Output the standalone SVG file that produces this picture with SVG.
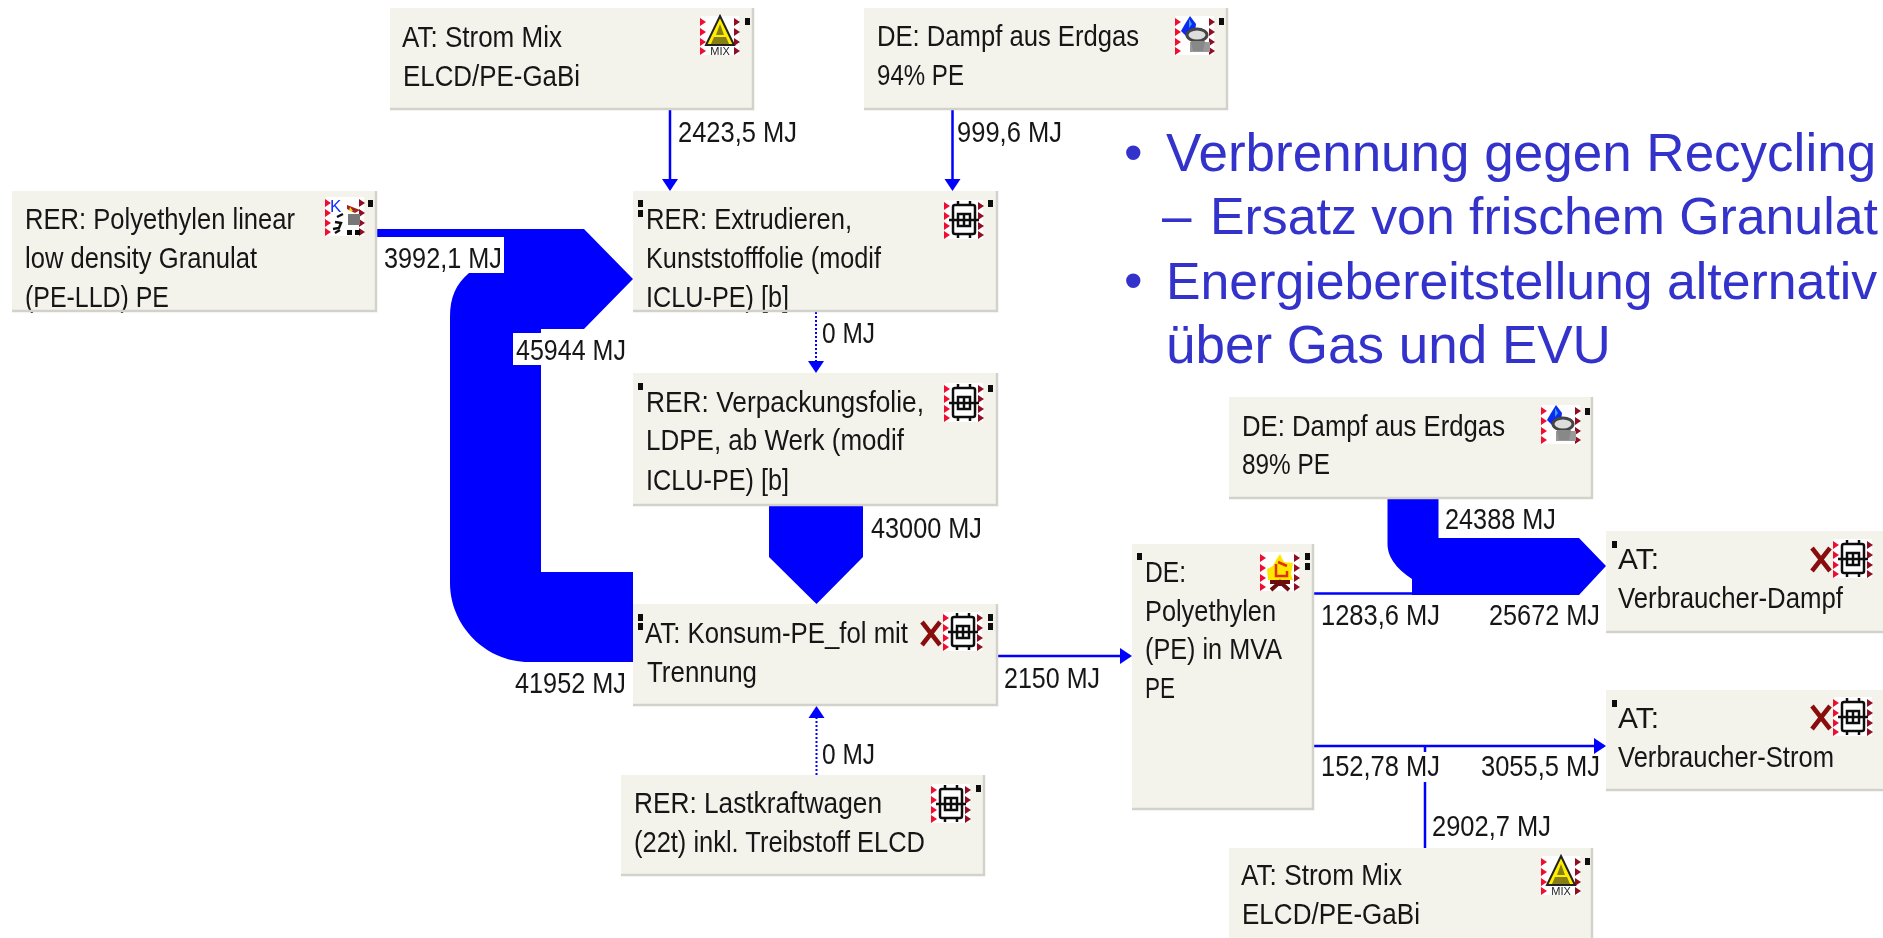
<svg xmlns="http://www.w3.org/2000/svg" width="1883" height="938" viewBox="0 0 1883 938">
<style>
.bg{fill:#fff}
.box{fill:#f3f3ec}
.edge{fill:none;stroke:#d2d2ca;stroke-width:2.5}
.t{font-family:"Liberation Sans",Arial,sans-serif;font-size:29px;fill:#151515}
.b{font-family:"Liberation Sans",Arial,sans-serif;font-size:53px;fill:#3333cc}
.c{font-size:51.800px}
.flow{fill:#0000ff}
.line{fill:none;stroke:#0000ff;stroke-width:2.5}
.dot{fill:none;stroke:#0000ff;stroke-width:2;stroke-dasharray:2 2}
.m{fill:#111}
.soft{filter:url(#soft)}
</style>
<defs>
<filter id="soft" x="0" y="0" width="1" height="1" filterUnits="objectBoundingBox"><feGaussianBlur stdDeviation="0.55"/></filter>
<marker id="ah" viewBox="0 0 12 18" markerUnits="userSpaceOnUse" markerWidth="12" markerHeight="18" refX="10" refY="9" orient="auto"><path d="M0 1L12 9L0 17Z" fill="#0000ff"/></marker>
<g id="frame">
<rect x="1" width="38" height="39" fill="#fff"/>
<path d="M0 2l6 4l-6 4zM0 12l6 4l-6 4zM0 22l6 4l-6 4zM0 31l6 4l-6 4z" fill="#f01030"/>
<path d="M34 2l6 4l-6 4zM34 12l6 4l-6 4zM34 22l6 4l-6 4zM34 31l6 4l-6 4z" fill="#901020"/>
</g>
<g id="factory">
<use href="#frame"/>
<g fill="none" stroke="#111" stroke-width="2.500">
<rect x="9" y="5" width="22" height="29" rx="2"/>
<path d="M5 20H35M14 1V5M26 1V5M14 34V38M26 34V38M14 14H26V26H14ZM20 14V26M14 20H26"/>
</g>
</g>
<g id="mix">
<use href="#frame"/>
<path d="M20 0L34 29H6Z" fill="#ffee00" stroke="#222" stroke-width="2"/>
<path d="M20 8L16 19H24ZM14 21L11 28H29L26 21Z" fill="#222" fill-opacity=".55"/>
<path d="M7 30H33V38H7Z" fill="#fff"/>
<text x="20" y="38.500" text-anchor="middle" font-family="Liberation Sans,sans-serif" font-size="11" fill="#222">MIX</text>
</g>
<g id="gas">
<use href="#frame"/>
<path d="M15 0L21 8L20 17L13 22L6 15L10 8Z" fill="#0a2cf0"/>
<path d="M14 3l3 5l-3 4z" fill="#30a0ff"/>
<rect x="15" y="26" width="20" height="10" fill="#999"/>
<ellipse cx="22" cy="19" rx="10" ry="6" fill="#ddd" stroke="#444" stroke-width="3"/>
<path d="M16 25H30L28 35H18Z" fill="#888"/>
</g>
<g id="plastic">
<use href="#frame"/>
<text x="5" y="15" font-family="Liberation Sans,sans-serif" font-size="17" fill="#1030ff">K</text>
<path d="M22 8L35 13L30 16L22 12Z" fill="#a02020"/>
<path d="M25 10l3 4l-4 0z" fill="#ffd800"/>
<rect x="23" y="17" width="12" height="11" fill="#777"/>
<path d="M12 20l6-3M10 25l6 1l-2 5l-6 1M10 36l5-3" fill="none" stroke="#111" stroke-width="2.500"/>
<rect x="22" y="33" width="5" height="5" fill="#111"/><rect x="30" y="33" width="5" height="5" fill="#111"/>
</g>
<g id="fire">
<use href="#frame"/>
<path d="M20 2L24 10L33 11L31 22L33 28H8L7 17L13 14L16 8Z" fill="#ffe800"/>
<path d="M16 12V24H27V19M18 10L27 14" fill="none" stroke="#e03010" stroke-width="2.500"/>
<path d="M10 30H30M20 28V34M11 38L20 30L29 38" fill="none" stroke="#6a1008" stroke-width="4"/>
</g>
<path id="x" d="M0 0L18 23M18 0L0 23" fill="none" stroke="#8a1010" stroke-width="4.500"/>
</defs>
<rect class="bg" width="1883" height="938"/>

<g id="bullets">
<text class="b" x="1124" y="171">•</text>
<text class="b" x="1166" y="171">Verbrennung gegen Recycling</text>
<text class="b" x="1162" y="234">–</text>
<text class="b c" x="1210" y="234">Ersatz von frischem Granulat</text>
<text class="b" x="1124" y="299">•</text>
<text class="b c" x="1166" y="299">Energiebereitstellung alternativ</text>
<text class="b" x="1166" y="363">über Gas und EVU</text>
</g>

<g class="soft">
<g id="connectors">
<path class="flow" d="M377 229H584L633 279L584 329H541V572H633V662H529C485 662 450 625 450 583V317C450 297 456 284 469 273H503V237H377Z"/>
<rect class="bg" x="378" y="237" width="126" height="36"/>
<rect class="bg" x="513" y="333" width="115" height="32"/>
<path class="flow" d="M769 506H863V557L816.500 604L769 557Z"/>
<path class="flow" d="M1387.500 499H1438.500V538H1579L1606 566L1579 595H1412V579C1398 570 1387.500 558 1387.500 544Z"/>
<path class="line" d="M1314 593.500H1412"/>
<path class="line" d="M670 110V189" marker-end="url(#ah)"/>
<path class="line" d="M952.500 110V189" marker-end="url(#ah)"/>
<path class="dot" d="M816 312V371" marker-end="url(#ah)"/>
<path class="dot" d="M816.500 775V708" marker-end="url(#ah)"/>
<path class="line" d="M997 656H1130" marker-end="url(#ah)"/>
<path class="line" d="M1314 746H1604" marker-end="url(#ah)"/>
<path class="line" d="M1425 848V782M1425 746V752"/>
<text class="t" x="678" y="142" textLength="119" lengthAdjust="spacingAndGlyphs">2423,5 MJ</text>
<text class="t" x="957" y="142" textLength="105" lengthAdjust="spacingAndGlyphs">999,6 MJ</text>
<text class="t" x="384" y="268" textLength="118" lengthAdjust="spacingAndGlyphs">3992,1 MJ</text>
<text class="t" x="516" y="360" textLength="110" lengthAdjust="spacingAndGlyphs">45944 MJ</text>
<text class="t" x="822" y="343" textLength="53" lengthAdjust="spacingAndGlyphs">0 MJ</text>
<text class="t" x="871" y="538" textLength="111" lengthAdjust="spacingAndGlyphs">43000 MJ</text>
<text class="t" x="515" y="693" textLength="111" lengthAdjust="spacingAndGlyphs">41952 MJ</text>
<text class="t" x="1004" y="688" textLength="96" lengthAdjust="spacingAndGlyphs">2150 MJ</text>
<text class="t" x="822" y="764" textLength="53" lengthAdjust="spacingAndGlyphs">0 MJ</text>
<text class="t" x="1445" y="529" textLength="111" lengthAdjust="spacingAndGlyphs">24388 MJ</text>
<text class="t" x="1321" y="625" textLength="119" lengthAdjust="spacingAndGlyphs">1283,6 MJ</text>
<text class="t" x="1489" y="625" textLength="111" lengthAdjust="spacingAndGlyphs">25672 MJ</text>
<text class="t" x="1321" y="776" textLength="119" lengthAdjust="spacingAndGlyphs">152,78 MJ</text>
<text class="t" x="1481" y="776" textLength="119" lengthAdjust="spacingAndGlyphs">3055,5 MJ</text>
<text class="t" x="1432" y="836" textLength="119" lengthAdjust="spacingAndGlyphs">2902,7 MJ</text>
</g>

<g id="node-strom-top">
<rect class="box" x="390" y="8" width="364" height="102"/>
<path class="edge" d="M390 109H753V8"/>
<text class="t" x="402" y="47" textLength="160" lengthAdjust="spacingAndGlyphs">AT: Strom Mix</text>
<text class="t" x="403" y="86" textLength="177" lengthAdjust="spacingAndGlyphs">ELCD/PE-GaBi</text>
<use href="#mix" x="700" y="16"/><rect class="m" x="745" y="18" width="5" height="7"/>
</g>

<g id="node-dampf-94">
<rect class="box" x="864" y="8" width="364" height="102"/>
<path class="edge" d="M864 109H1227V8"/>
<text class="t" x="877" y="46" textLength="262" lengthAdjust="spacingAndGlyphs">DE: Dampf aus Erdgas</text>
<text class="t" x="877" y="85" textLength="87" lengthAdjust="spacingAndGlyphs">94% PE</text>
<use href="#gas" x="1175" y="16"/><rect class="m" x="1219" y="18" width="5" height="7"/>
</g>

<g id="node-polyethylen">
<rect class="box" x="12" y="191" width="365" height="121"/>
<text class="t" x="25" y="229" textLength="270" lengthAdjust="spacingAndGlyphs">RER: Polyethylen linear</text>
<text class="t" x="25" y="268" textLength="232" lengthAdjust="spacingAndGlyphs">low density Granulat</text>
<text class="t" x="25" y="307" textLength="144" lengthAdjust="spacingAndGlyphs">(PE-LLD) PE</text>
<path class="edge" d="M12 311H376V191"/>
<use href="#plastic" x="325" y="197"/><rect class="m" x="368" y="200" width="5" height="7"/>
</g>

<g id="node-extrudieren">
<rect class="box" x="633" y="191" width="365" height="121"/>
<text class="t" x="646" y="229" textLength="206" lengthAdjust="spacingAndGlyphs">RER: Extrudieren,</text>
<text class="t" x="646" y="268" textLength="235" lengthAdjust="spacingAndGlyphs">Kunststofffolie (modif</text>
<text class="t" x="646" y="307" textLength="143" lengthAdjust="spacingAndGlyphs">ICLU-PE) [b]</text>
<path class="edge" d="M633 311H997V191"/>
<use href="#factory" x="944" y="200"/><rect class="m" x="988" y="200" width="5" height="7"/>
<rect class="m" x="638" y="200" width="5" height="7"/><rect class="m" x="638" y="210" width="5" height="7"/>
</g>

<g id="node-verpackung">
<rect class="box" x="633" y="373" width="365" height="133"/>
<path class="edge" d="M633 505H997V373"/>
<text class="t" x="646" y="412" textLength="278" lengthAdjust="spacingAndGlyphs">RER: Verpackungsfolie,</text>
<text class="t" x="646" y="450" textLength="258" lengthAdjust="spacingAndGlyphs">LDPE, ab Werk (modif</text>
<text class="t" x="646" y="490" textLength="143" lengthAdjust="spacingAndGlyphs">ICLU-PE) [b]</text>
<use href="#factory" x="944" y="383"/><rect class="m" x="988" y="385" width="5" height="7"/>
<rect class="m" x="638" y="383" width="5" height="7"/>
</g>

<g id="node-konsum">
<rect class="box" x="633" y="604" width="365" height="102"/>
<path class="edge" d="M633 705H997V604"/>
<text class="t" x="645" y="643" textLength="263" lengthAdjust="spacingAndGlyphs">AT: Konsum-PE_fol mit</text>
<text class="t" x="647" y="682" textLength="110" lengthAdjust="spacingAndGlyphs">Trennung</text>
<use href="#x" x="922" y="622"/>
<use href="#factory" x="943" y="612"/>
<rect class="m" x="988" y="614" width="5" height="7"/><rect class="m" x="988" y="623" width="5" height="7"/>
<rect class="m" x="638" y="614" width="5" height="7"/><rect class="m" x="638" y="623" width="5" height="7"/>
</g>

<g id="node-lkw">
<rect class="box" x="621" y="775" width="364" height="101"/>
<path class="edge" d="M621 875H984V775"/>
<text class="t" x="634" y="813" textLength="248" lengthAdjust="spacingAndGlyphs">RER: Lastkraftwagen</text>
<text class="t" x="634" y="852" textLength="291" lengthAdjust="spacingAndGlyphs">(22t) inkl. Treibstoff ELCD</text>
<use href="#factory" x="931" y="784"/><rect class="m" x="976" y="785" width="5" height="7"/>
</g>

<g id="node-dampf-89">
<rect class="box" x="1229" y="397" width="364" height="102"/>
<path class="edge" d="M1229 498H1592V397"/>
<text class="t" x="1242" y="436" textLength="263" lengthAdjust="spacingAndGlyphs">DE: Dampf aus Erdgas</text>
<text class="t" x="1242" y="474" textLength="88" lengthAdjust="spacingAndGlyphs">89% PE</text>
<use href="#gas" x="1541" y="405"/><rect class="m" x="1585" y="408" width="5" height="7"/>
</g>

<g id="node-mva">
<rect class="box" x="1132" y="544" width="182" height="266"/>
<path class="edge" d="M1132 809H1313V544"/>
<text class="t" x="1145" y="582" textLength="41" lengthAdjust="spacingAndGlyphs">DE:</text>
<text class="t" x="1145" y="621" textLength="131" lengthAdjust="spacingAndGlyphs">Polyethylen</text>
<text class="t" x="1145" y="659" textLength="137" lengthAdjust="spacingAndGlyphs">(PE) in MVA</text>
<text class="t" x="1145" y="698" textLength="30" lengthAdjust="spacingAndGlyphs">PE</text>
<use href="#fire" x="1260" y="552"/>
<rect class="m" x="1305" y="553" width="5" height="7"/><rect class="m" x="1305" y="563" width="5" height="7"/>
<rect class="m" x="1137" y="553" width="5" height="7"/>
</g>

<g id="node-verbraucher-dampf">
<rect class="box" x="1606" y="531" width="277" height="102"/>
<path class="edge" d="M1606 632H1883"/>
<text class="t" x="1618" y="569" textLength="41" lengthAdjust="spacingAndGlyphs">AT:</text>
<text class="t" x="1618" y="608" textLength="225" lengthAdjust="spacingAndGlyphs">Verbraucher-Dampf</text>
<use href="#x" x="1812" y="548"/>
<use href="#factory" x="1833" y="539"/>
<rect class="m" x="1612" y="541" width="5" height="7"/>
</g>

<g id="node-verbraucher-strom">
<rect class="box" x="1606" y="690" width="277" height="101"/>
<path class="edge" d="M1606 790H1883"/>
<text class="t" x="1618" y="728" textLength="41" lengthAdjust="spacingAndGlyphs">AT:</text>
<text class="t" x="1618" y="767" textLength="216" lengthAdjust="spacingAndGlyphs">Verbraucher-Strom</text>
<use href="#x" x="1812" y="706"/>
<use href="#factory" x="1833" y="697"/>
<rect class="m" x="1612" y="700" width="5" height="7"/>
</g>

<g id="node-strom-bottom">
<rect class="box" x="1229" y="848" width="364" height="90"/>
<path class="edge" d="M1592 848V938"/>
<text class="t" x="1241" y="885" textLength="161" lengthAdjust="spacingAndGlyphs">AT: Strom Mix</text>
<text class="t" x="1242" y="924" textLength="178" lengthAdjust="spacingAndGlyphs">ELCD/PE-GaBi</text>
<use href="#mix" x="1541" y="856"/><rect class="m" x="1585" y="858" width="5" height="7"/>
</g>
</g>
</svg>
